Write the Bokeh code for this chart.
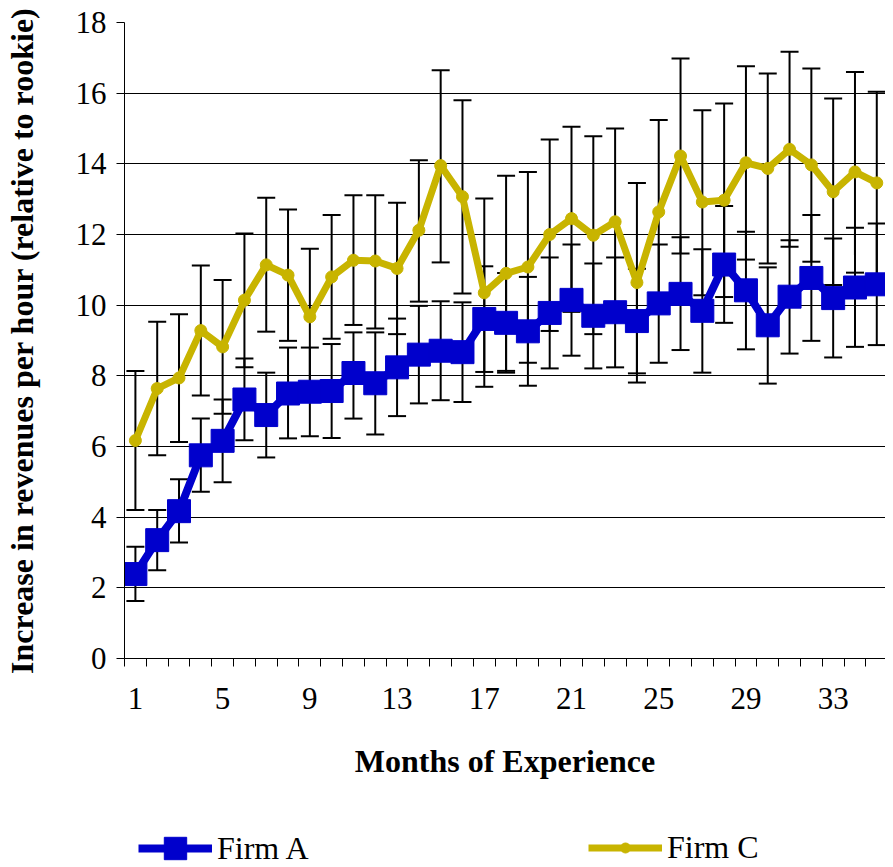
from bokeh.plotting import figure
from bokeh.layouts import column
from bokeh.models import ColumnDataSource, Whisker, FixedTicker, Range1d, Legend, LegendItem
from bokeh.embed import file_html
from bokeh.resources import INLINE

months = list(range(1, 36))

firm_a = [2.39, 3.35, 4.17, 5.75, 6.16, 7.33, 6.89, 7.50, 7.55, 7.57,
          8.08, 7.79, 8.24, 8.60, 8.71, 8.67, 9.61, 9.50, 9.26, 9.78,
          10.15, 9.70, 9.80, 9.55, 10.05, 10.32, 9.84, 11.15, 10.42, 9.43,
          10.24, 10.77, 10.20, 10.50, 10.59]
firm_a_low = [1.63, 2.50, 3.28, 4.72, 4.99, 6.18, 5.69, 6.23, 6.29, 6.24,
              6.79, 6.34, 6.86, 7.22, 7.31, 7.26, 8.11, 8.09, 7.72, 8.21,
              8.57, 8.21, 8.24, 8.07, 8.37, 8.73, 8.09, 9.50, 8.75, 7.78,
              8.63, 8.99, 8.52, 8.82, 8.87]
firm_a_high = [3.16, 4.20, 5.07, 6.79, 7.33, 8.49, 8.09, 8.80, 8.80, 8.90,
               9.23, 9.23, 9.62, 9.98, 10.11, 10.08, 11.10, 10.91, 10.80, 11.35,
               11.72, 11.18, 11.35, 11.03, 11.72, 11.92, 11.58, 12.81, 12.08, 11.07,
               11.84, 12.55, 11.89, 12.19, 12.31]

firm_c = [6.17, 7.64, 7.94, 9.28, 8.82, 10.14, 11.14, 10.85, 9.67, 10.80,
          11.27, 11.25, 11.04, 12.12, 13.95, 13.07, 10.35, 10.90, 11.08, 12.00,
          12.45, 11.98, 12.36, 10.64, 12.64, 14.22, 12.92, 12.97, 14.03, 13.87,
          14.41, 13.97, 13.21, 13.77, 13.46]
firm_c_low = [4.20, 5.75, 6.13, 7.44, 6.93, 8.24, 9.25, 8.99, 7.74, 9.05,
              9.44, 9.34, 9.18, 10.10, 11.21, 10.33, 7.69, 8.14, 8.37, 9.27,
              9.81, 9.18, 9.72, 7.81, 10.04, 11.46, 10.28, 10.23, 11.29, 11.18,
              11.65, 11.23, 10.57, 10.92, 10.88]
firm_c_high = [8.14, 9.53, 9.74, 11.12, 10.71, 12.03, 13.04, 12.71, 11.60, 12.55,
               13.11, 13.11, 12.90, 14.10, 16.65, 15.80, 13.02, 13.66, 13.77, 14.69,
               15.05, 14.78, 15.00, 13.46, 15.24, 16.98, 15.52, 15.71, 16.76, 16.56,
               17.17, 16.70, 15.85, 16.60, 16.04]

x_tick_months = [1, 5, 9, 13, 17, 21, 25, 29, 33]
y_ticks = [0, 2, 4, 6, 8, 10, 12, 14, 16, 18]

series_names = ["Firm A", "Firm C"]
x_title = "Months of Experience"
y_title = "Increase in revenues per hour (relative to rookie)"

BLUE = "#0000CC"
GOLD = "#C8B400"
FONT = "Liberation Serif"

p = figure(width=885, height=800, output_backend="svg", toolbar_location=None,
           x_range=Range1d(0.5, 35.4), y_range=Range1d(0, 18),
           min_border_left=120, min_border_right=0, min_border_top=22,
           min_border_bottom=142)
p.outline_line_color = None
p.background_fill_color = "white"
p.border_fill_color = "white"

p.xgrid.visible = False
p.ygrid.ticker = FixedTicker(ticks=y_ticks)
p.ygrid.grid_line_color = "black"
p.ygrid.grid_line_width = 1

# y axis
p.yaxis.ticker = FixedTicker(ticks=y_ticks)
p.yaxis.major_tick_in = 0
p.yaxis.major_tick_out = 8
p.yaxis.minor_tick_line_color = None
p.yaxis.axis_line_color = "black"
p.yaxis.major_tick_line_color = "black"
p.yaxis.major_label_text_font = FONT
p.yaxis.major_label_text_font_size = "31px"
p.yaxis.major_label_text_color = "black"
p.yaxis.major_label_standoff = 10
p.yaxis.axis_label = y_title
p.yaxis.axis_label_text_font = FONT
p.yaxis.axis_label_text_font_style = "bold"
p.yaxis.axis_label_text_font_size = "32px"
p.yaxis.axis_label_text_color = "black"
p.yaxis.axis_label_standoff = 33

# x axis
boundaries = [m - 0.5 for m in months] + [months[-1] + 0.5]
p.xaxis.ticker = FixedTicker(ticks=x_tick_months, minor_ticks=boundaries)
p.xaxis.major_tick_line_color = None
p.xaxis.major_tick_in = 0
p.xaxis.major_tick_out = 0
p.xaxis.minor_tick_in = 0
p.xaxis.minor_tick_out = 8
p.xaxis.minor_tick_line_color = "black"
p.xaxis.axis_line_color = "black"
p.xaxis.major_label_text_font = FONT
p.xaxis.major_label_text_font_size = "31px"
p.xaxis.major_label_text_color = "black"
p.xaxis.major_label_standoff = 21
p.xaxis.axis_label = x_title
p.xaxis.axis_label_text_font = FONT
p.xaxis.axis_label_text_font_style = "bold"
p.xaxis.axis_label_text_font_size = "32px"
p.xaxis.axis_label_text_color = "black"
p.xaxis.axis_label_standoff = 31

src_a = ColumnDataSource(dict(x=months, y=firm_a, lo=firm_a_low, hi=firm_a_high))
src_c = ColumnDataSource(dict(x=months, y=firm_c, lo=firm_c_low, hi=firm_c_high))

for src in (src_c, src_a):
    w = Whisker(source=src, base="x", upper="hi", lower="lo",
                line_color="black", line_width=2)
    for head in (w.upper_head, w.lower_head):
        head.size = 18
        head.line_width = 2
        head.line_color = "black"
    p.add_layout(w)

line_c = dict(line_color=GOLD, line_width=7)
pts_c = dict(marker="circle", size=12, fill_color=GOLD, line_color=GOLD)
line_a = dict(line_color=BLUE, line_width=8)
pts_a = dict(marker="square", size=23, fill_color=BLUE, line_color=BLUE)

p.line("x", "y", source=src_c, **line_c)
p.scatter("x", "y", source=src_c, **pts_c)
p.line("x", "y", source=src_a, **line_a)
p.scatter("x", "y", source=src_a, **pts_a)

# Legend strip below the chart (same series, view window holds no data)
leg = figure(width=885, height=67, output_backend="svg", toolbar_location=None,
             x_range=Range1d(-100, -99), y_range=Range1d(-100, -99),
             x_axis_location=None, y_axis_location=None,
             min_border=0, outline_line_color=None)
leg.grid.visible = False
leg.background_fill_color = "white"
leg.border_fill_color = "white"
la_line = leg.line("x", "y", source=src_a, **line_a)
la_pts = leg.scatter("x", "y", source=src_a, **pts_a)
lc_line = leg.line("x", "y", source=src_c, **line_c)
lc_pts = leg.scatter("x", "y", source=src_c, **pts_c)

def make_legend(label, renderers, loc, gh):
    return Legend(items=[LegendItem(label=label, renderers=renderers)],
                  location=loc, orientation="horizontal",
                  border_line_color=None, background_fill_alpha=0,
                  padding=0, margin=0, spacing=0,
                  glyph_width=74, glyph_height=gh, label_height=gh,
                  label_standoff=5, label_text_font=FONT,
                  label_text_font_size="32px", label_text_color="black")

leg.add_layout(make_legend(series_names[0], [la_line, la_pts], (14, -9), 56))
leg.add_layout(make_legend(series_names[1], [lc_line, lc_pts], (464, 1), 25))

layout = column(p, leg, spacing=0)
open("out.html", "w").write(file_html(layout, INLINE))
